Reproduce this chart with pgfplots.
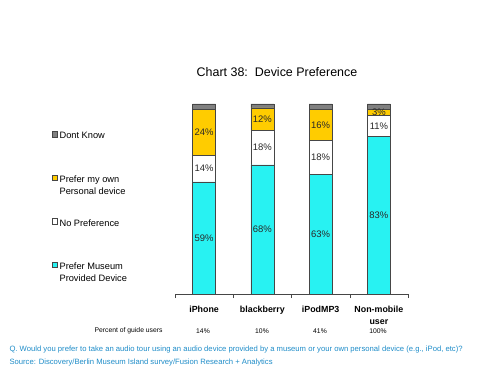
\documentclass[border=0pt]{standalone}
\usepackage{pgfplots}
\pgfplotsset{compat=1.18}
\usepackage{fontspec}
\setmainfont{Liberation Sans}
\definecolor{cyanbar}{RGB}{40,242,242}
\definecolor{goldbar}{RGB}{255,204,0}
\definecolor{graybar}{RGB}{128,128,128}
\definecolor{edge}{RGB}{70,70,70}
\definecolor{qblue}{RGB}{30,140,200}
\definecolor{lbl}{RGB}{40,40,40}
\pgfplotsset{
  mybar/.style={fill=#1, draw=edge, line width=0.5bp,
    legend image code/.code={\draw[##1, line width=0.4bp] (0bp,5.5bp) rectangle (5.5bp,11bp);}},
}
\begin{document}
\begin{tikzpicture}[x=1bp,y=1bp]
\path[use as bounding box] (0,0) rectangle (500,375);
\begin{axis}[
  at={(175bp,81bp)}, anchor=south west, scale only axis,
  width=233bp, height=190bp,
  xmin=-0.5, xmax=3.5, ymin=0, ymax=100,
  ybar stacked, bar width=23bp,
  axis y line=none, axis x line=bottom,
  x axis line style={-, draw=edge, line width=0.5bp},
  xtick={0,1,2,3},
  xticklabels={iPhone, blackberry, iPodMP3, {Non-mobile\\user}},
  major tick length=0pt,
  xticklabel style={font=\bfseries\fontsize{8.9}{11.5}\selectfont, align=center, yshift=-9bp},
  extra x ticks={-0.5,0.5,1.5,2.5,3.5},
  extra x tick labels={},
  extra x tick style={major tick length=4bp, tick align=outside, tick style={draw=edge, line width=0.5bp}},
  reverse legend,
  legend cell align=left,
  legend style={draw=none, fill=none, at={(-0.543,0.872)}, anchor=north west,
    font=\fontsize{9.3}{12}\selectfont, row sep=19.5bp,
    nodes={align=left, inner xsep=2bp}},
]
\addplot[mybar=cyanbar] coordinates {(0,59) (1,68) (2,63) (3,83)};
\addlegendentry{Prefer Museum\\Provided Device}
\addplot[mybar=white] coordinates {(0,14) (1,18) (2,18) (3,11)};
\addlegendentry{No Preference\\\strut}
\addplot[mybar=goldbar] coordinates {(0,24) (1,12) (2,16) (3,3)};
\addlegendentry{Prefer my own\\Personal device}
\addplot[mybar=graybar] coordinates {(0,3) (1,2) (2,3) (3,3)};
\addlegendentry{Dont Know\\\strut}
\end{axis}
\begin{axis}[
  at={(175bp,81bp)}, anchor=south west, scale only axis,
  width=233bp, height=190bp,
  xmin=-0.5, xmax=3.5, ymin=0, ymax=100,
  hide axis,
  /pgf/number format/assume math mode=true,
]
\addplot[only marks, mark=none, point meta=explicit,
  nodes near coords={\pgfmathprintnumber{\pgfplotspointmeta}\%},
  every node near coord/.append style={anchor=center, text=lbl, font=\fontsize{9.5}{11}\selectfont}]
  table[meta=v] {
x y v
0 29.5 59
0 66 14
0 85 24
1 34 68
1 77 18
1 92 12
2 31.5 63
2 72 18
2 89 16
3 41.5 83
3 88.5 11
3 95.5 3
};
\end{axis}
\node[font=\fontsize{12.5}{14}\selectfont] at (277,303) {Chart 38:\ \ Device Preference};
\node[anchor=east, font=\fontsize{6.8}{8}\selectfont] at (166,44) {Percent of guide users};
\foreach \xx/\tt in {203/14, 262/10, 320/41, 378/100}
  \node[font=\fontsize{6.8}{8}\selectfont] at (\xx,44) {\tt\%};
\node[anchor=west, text=qblue, font=\fontsize{7.7}{9}\selectfont] at (6,25.5) {Q. Would you prefer to take an audio tour using an audio device provided by a museum or your own personal device (e.g., iPod, etc)?};
\node[anchor=west, text=qblue, font=\fontsize{7.7}{9}\selectfont] at (6,12.5) {Source: Discovery/Berlin Museum Island survey/Fusion Research + Analytics};
\end{tikzpicture}
\end{document}
